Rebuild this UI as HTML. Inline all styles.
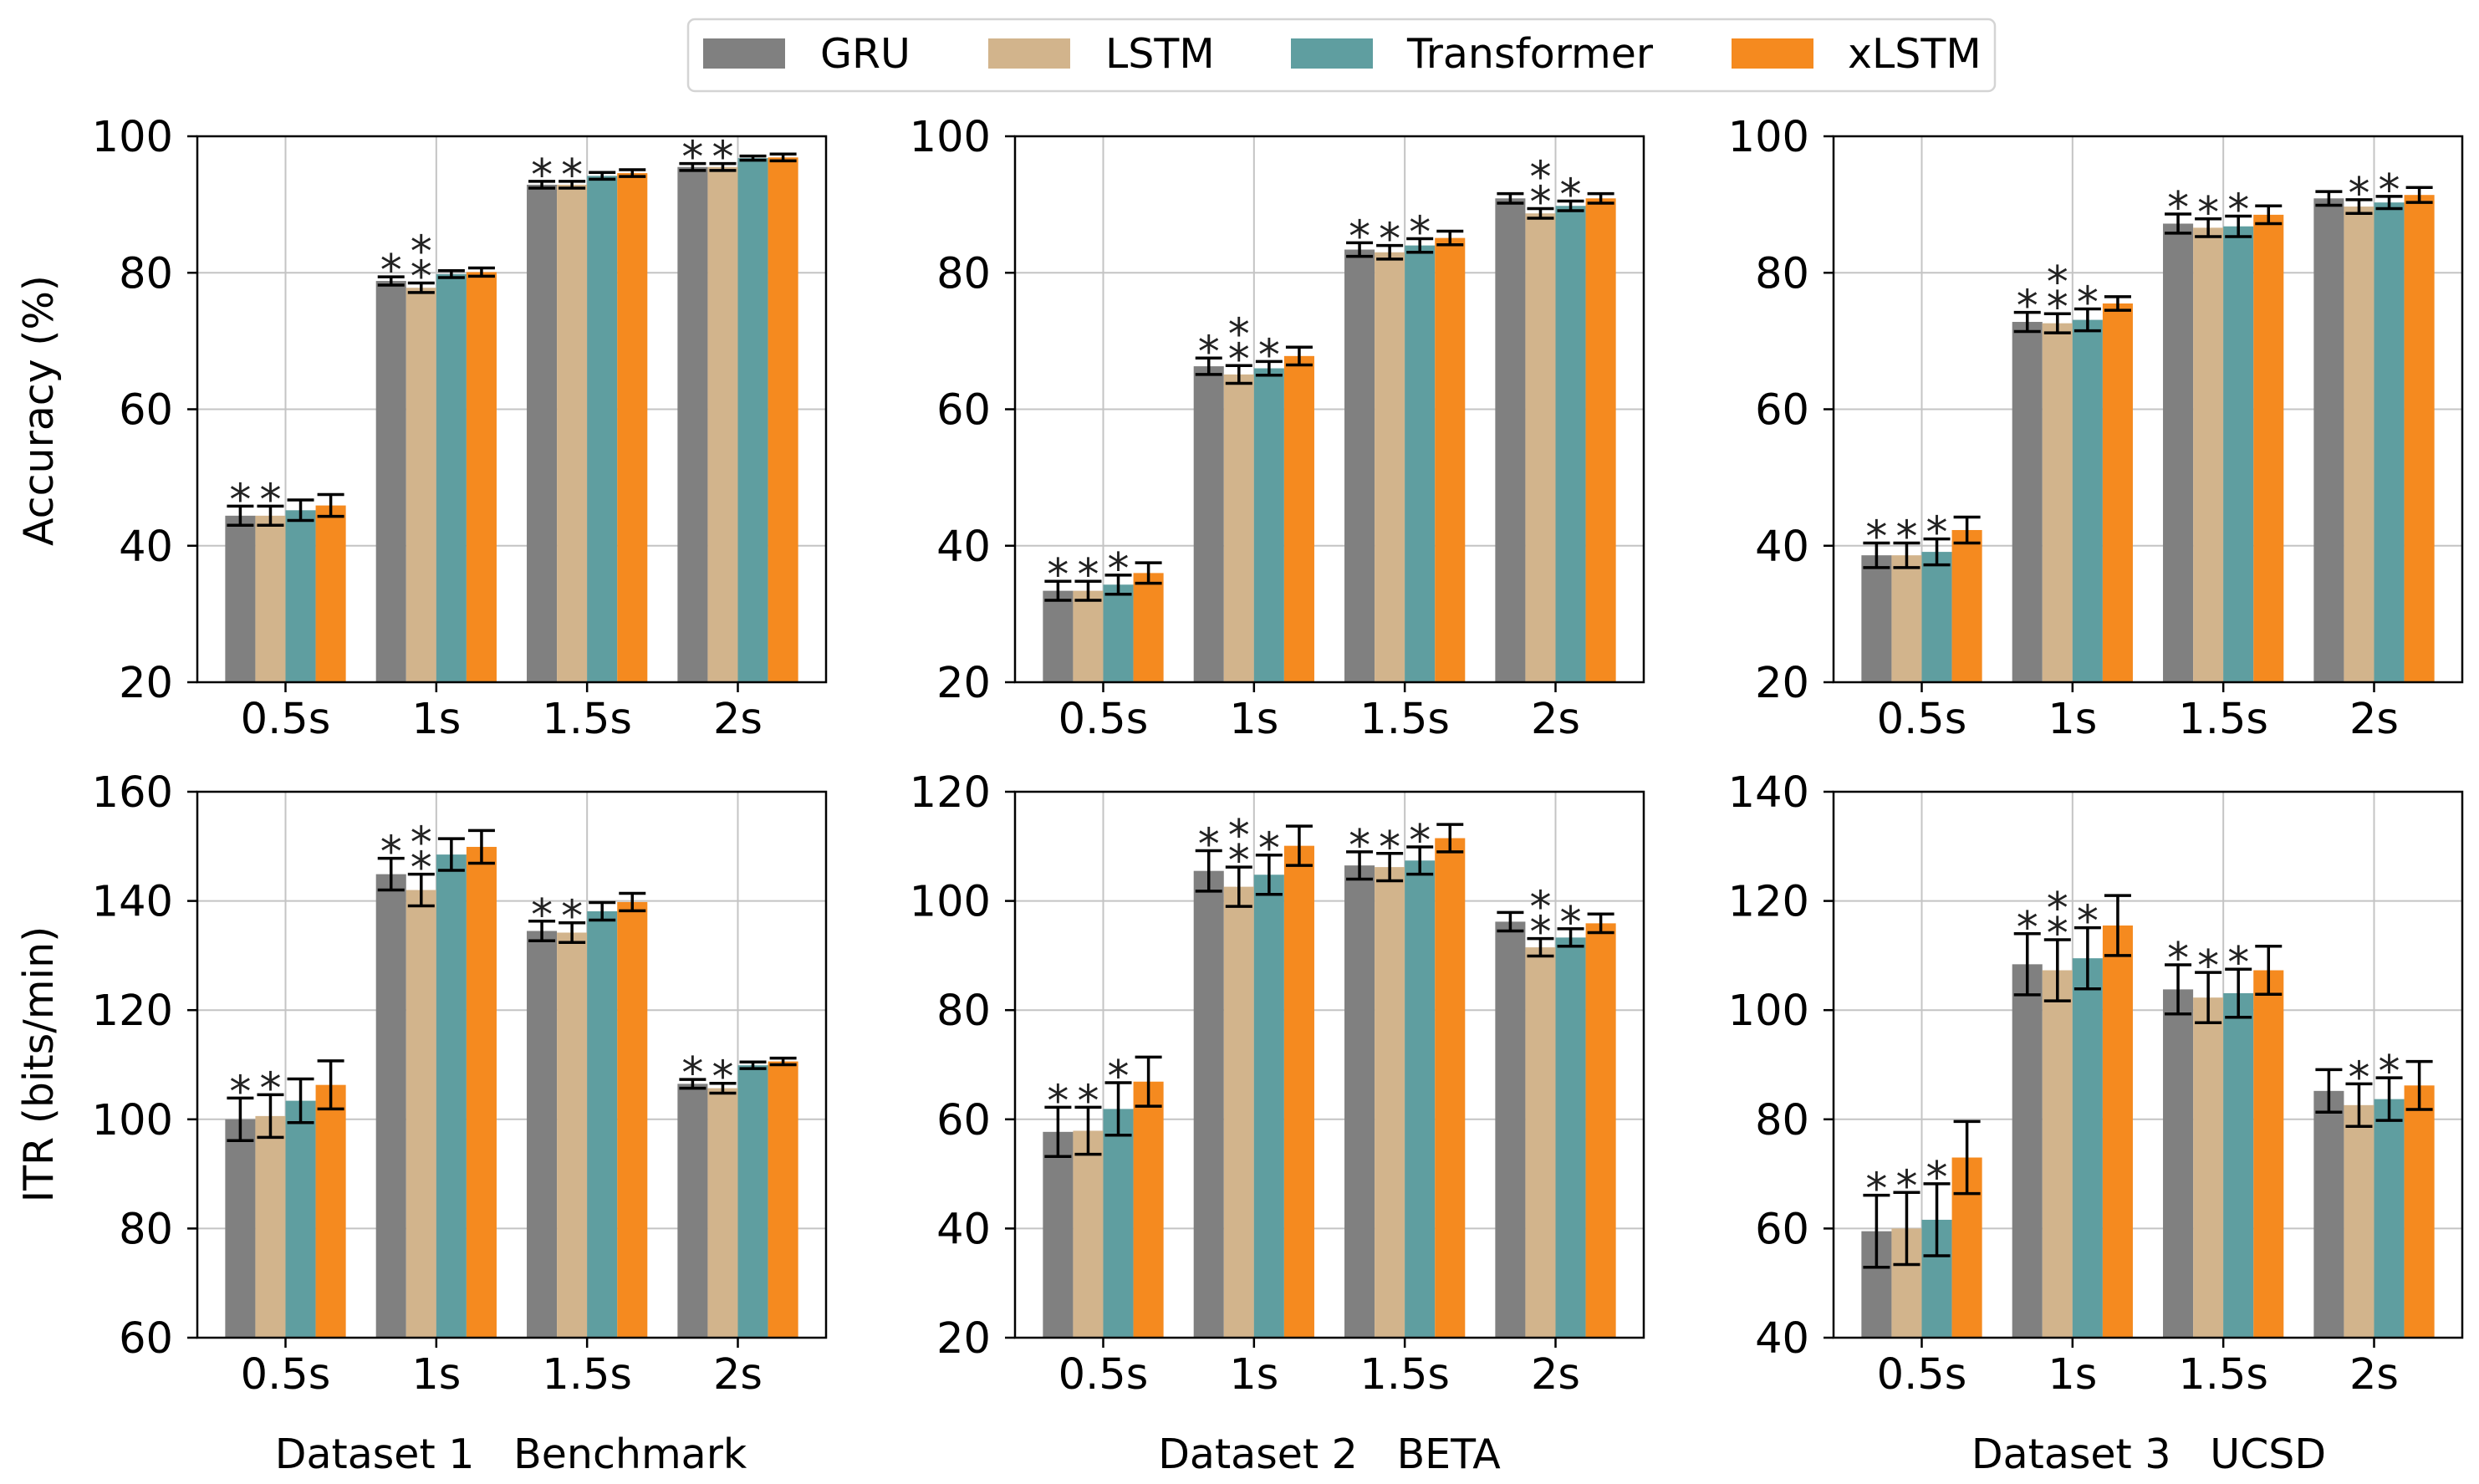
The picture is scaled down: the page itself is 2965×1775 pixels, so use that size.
<!DOCTYPE html>
<html><head><meta charset="utf-8"><style>html,body{margin:0;padding:0;background:#fff}svg{display:block}</style></head>
<body>
<svg id="fig" width="2965" height="1775" viewBox="0 0 2965 1775" xmlns="http://www.w3.org/2000/svg" font-family="'DejaVu Sans','Liberation Sans',sans-serif">
<rect width="2965" height="1775" fill="#fff"/>
<g>
<rect x="823" y="23" width="1563" height="86" rx="8" fill="#fff" stroke="#d4d4d4" stroke-width="2.5"/>
<g><rect x="841" y="46" width="98" height="36" fill="#808080"/><text x="981" y="81" font-size="49">GRU</text></g>
<g><rect x="1182" y="46" width="98" height="36" fill="#d2b48c"/><text x="1322" y="81" font-size="49">LSTM</text></g>
<g><rect x="1544" y="46" width="98" height="36" fill="#5f9ea0"/><text x="1683" y="81" font-size="49">Transformer</text></g>
<g><rect x="2071" y="46" width="98" height="36" fill="#f58a1f"/><text x="2210" y="81" font-size="49">xLSTM</text></g>
</g>
<text transform="translate(63,491) rotate(-90)" text-anchor="middle" font-size="49">Accuracy (%)</text>
<text transform="translate(63,1273) rotate(-90)" text-anchor="middle" font-size="49">ITR (bits/min)</text>
<text x="611" y="1756" text-anchor="middle" font-size="49" xml:space="preserve">Dataset 1   Benchmark</text>
<text x="1590" y="1756" text-anchor="middle" font-size="49" xml:space="preserve">Dataset 2   BETA</text>
<text x="2570" y="1756" text-anchor="middle" font-size="49" xml:space="preserve">Dataset 3   UCSD</text>
</svg>
<script>
const categories = ["0.5s","1s","1.5s","2s"];
const seriesNames = ["GRU","LSTM","Transformer","xLSTM"];
const colors = ["#808080","#d2b48c","#5f9ea0","#f58a1f"];
// Accuracy Dataset 1
const acc1 = [[44.4,78.8,92.9,95.5],[44.4,77.8,92.9,95.5],[45.2,79.8,94.2,96.8],[45.9,80.1,94.6,96.9]];
const acc1Err = [[1.4,0.6,0.5,0.5],[1.4,0.7,0.5,0.5],[1.5,0.5,0.5,0.3],[1.6,0.6,0.5,0.5]];
const acc1Stars = [[1,1,1,1],[1,2,1,1],[0,0,0,0],[0,0,0,0]];
// Accuracy Dataset 2
const acc2 = [[33.4,66.3,83.4,90.9],[33.4,65.1,83.0,88.7],[34.3,66.0,84.0,89.8],[36.0,67.8,85.1,90.9]];
const acc2Err = [[1.4,1.2,1.0,0.7],[1.4,1.3,1.0,0.7],[1.4,1.0,1.0,0.7],[1.5,1.3,1.0,0.7]];
const acc2Stars = [[1,1,1,0],[1,2,1,2],[1,1,1,1],[0,0,0,0]];
// Accuracy Dataset 3
const acc3 = [[38.6,72.8,87.2,90.9],[38.6,72.6,86.6,89.7],[39.1,73.1,86.8,90.3],[42.3,75.5,88.5,91.4]];
const acc3Err = [[1.8,1.4,1.4,1.0],[1.8,1.4,1.3,1.0],[1.9,1.6,1.5,0.9],[1.9,1.0,1.3,1.1]];
const acc3Stars = [[1,1,1,0],[1,2,1,1],[1,1,1,1],[0,0,0,0]];
// ITR Dataset 1
const itr1 = [[100.0,144.9,134.5,106.5],[100.6,142.0,134.2,105.7],[103.4,148.5,138.1,109.9],[106.3,149.9,139.8,110.6]];
const itr1Err = [[3.9,2.9,1.8,0.8],[3.9,2.9,1.8,0.9],[4.0,2.9,1.6,0.6],[4.4,3.0,1.6,0.6]];
const itr1Stars = [[1,1,1,1],[1,2,1,1],[0,0,0,0],[0,0,0,0]];
// ITR Dataset 2
const itr2 = [[57.7,105.5,106.5,96.2],[57.9,102.6,106.2,91.5],[61.9,104.8,107.4,93.3],[66.9,110.1,111.5,95.9]];
const itr2Err = [[4.5,3.7,2.5,1.7],[4.3,3.6,2.5,1.6],[4.8,3.6,2.5,1.6],[4.5,3.6,2.5,1.7]];
const itr2Stars = [[1,1,1,0],[1,2,1,2],[1,1,1,1],[0,0,0,0]];
// ITR Dataset 3
const itr3 = [[59.5,108.4,103.8,85.2],[60.0,107.3,102.3,82.6],[61.6,109.5,103.1,83.7],[73.0,115.5,107.3,86.2]];
const itr3Err = [[6.6,5.6,4.5,3.9],[6.6,5.6,4.6,3.9],[6.6,5.6,4.4,3.9],[6.6,5.5,4.4,4.4]];
const itr3Stars = [[1,1,1,0],[1,2,1,1],[1,1,1,1],[0,0,0,0]];
const accTicks = [20,40,60,80,100];
const itr1Ticks = [60,80,100,120,140,160];
const itr2Ticks = [20,40,60,80,100,120];
const itr3Ticks = [40,60,80,100,120,140];

const NS = "http://www.w3.org/2000/svg";
const svg = document.getElementById("fig");
function mk(tag, attrs, parent){
  const e = document.createElementNS(NS, tag);
  for (const k in attrs) e.setAttribute(k, attrs[k]);
  parent.appendChild(e);
  return e;
}
const panels = [
  {name:"accuracy-dataset-1", x:236, y:163, vals:acc1, err:acc1Err, stars:acc1Stars, ticks:accTicks},
  {name:"accuracy-dataset-2", x:1214, y:163, vals:acc2, err:acc2Err, stars:acc2Stars, ticks:accTicks},
  {name:"accuracy-dataset-3", x:2193, y:163, vals:acc3, err:acc3Err, stars:acc3Stars, ticks:accTicks},
  {name:"itr-dataset-1", x:236, y:947, vals:itr1, err:itr1Err, stars:itr1Stars, ticks:itr1Ticks},
  {name:"itr-dataset-2", x:1214, y:947, vals:itr2, err:itr2Err, stars:itr2Stars, ticks:itr2Ticks},
  {name:"itr-dataset-3", x:2193, y:947, vals:itr3, err:itr3Err, stars:itr3Stars, ticks:itr3Ticks}
];
const W = 752, H = 653;
panels.forEach(p => {
  const g = mk("g", {}, svg);
  
  
  const ymin = p.ticks[0], ymax = p.ticks[p.ticks.length-1];
  const xs = v => p.x + (v + 0.585) / 4.17 * W;
  const ys = v => p.y + H - (v - ymin) / (ymax - ymin) * H;
  p.ticks.forEach(t => {
    const l = mk("line", {x1:p.x, x2:p.x+W, y1:ys(t), y2:ys(t), stroke:"#c4c4c4", "stroke-width":2}, g);
    
    
    mk("line", {x1:p.x-12, x2:p.x, y1:ys(t), y2:ys(t), stroke:"#000", "stroke-width":2.5}, g);
    const tx = mk("text", {x:p.x-29, y:ys(t)+18, "text-anchor":"end", "font-size":51}, g);
    tx.textContent = t;
    
    
  });
  categories.forEach((c, i) => {
    const l = mk("line", {x1:xs(i), x2:xs(i), y1:p.y, y2:p.y+H, stroke:"#c4c4c4", "stroke-width":2}, g);
    
    
    mk("line", {x1:xs(i), x2:xs(i), y1:p.y+H, y2:p.y+H+12, stroke:"#000", "stroke-width":2.5}, g);
    const tx = mk("text", {x:xs(i), y:p.y+H+61, "text-anchor":"middle", "font-size":51}, g);
    tx.textContent = c;
    
    
  });
  p.vals.forEach((series, s) => {
    series.forEach((v, i) => {
      const off = -0.3 + 0.2 * s;
      const x0 = xs(i + off - 0.1), x1 = xs(i + off + 0.1);
      const b = mk("rect", {x:x0, y:ys(v), width:x1-x0, height:ys(ymin)-ys(v), fill:colors[s]}, g);
      
      
    });
  });
  p.vals.forEach((series, s) => {
    series.forEach((v, i) => {
      const cx = xs(i - 0.3 + 0.2 * s);
      const e = p.err[s][i];
      const top = ys(v + e), bot = ys(v - e);
      const eg = mk("g", {stroke:"#000", "stroke-width":3.5}, g);
      
      
      mk("line", {x1:cx, x2:cx, y1:top, y2:bot}, eg);
      mk("line", {x1:cx-16, x2:cx+16, y1:top, y2:top}, eg);
      mk("line", {x1:cx-16, x2:cx+16, y1:bot, y2:bot}, eg);
      const n = p.stars[s][i];
      for (let k = 0; k < n; k++) {
        const cy = top - 20 - k * 30;
        const st = mk("text", {x:cx, y:cy + 30, "text-anchor":"middle", "font-size":52, fill:"#222"}, g);
        st.textContent = "*";
        
        
      }
    });
  });
  const fr = mk("rect", {x:p.x, y:p.y, width:W, height:H, fill:"none", stroke:"#000", "stroke-width":2.5}, g);
  
  
});
</script>
</body></html>
